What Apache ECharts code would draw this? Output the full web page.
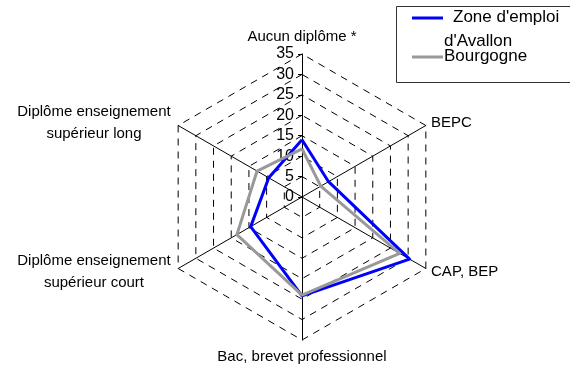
<!DOCTYPE html>
<html><head><meta charset="utf-8">
<script src="https://cdn.jsdelivr.net/npm/echarts@6/dist/echarts.min.js"></script>
<style>html,body{margin:0;padding:0;background:#fff}#c{width:570px;height:367px}</style>
</head><body><div id="c"></div>
<script>
// Indicators in drawing order (counter-clockwise from top)
var categories = ["Aucun diplôme *", "Diplôme enseignement\nsupérieur long", "Diplôme enseignement\nsupérieur court", "Bac, brevet professionnel", "CAP, BEP", "BEPC"];
var avallon = [14.0, 9.4, 14.5, 24.2, 30.4, 7.5];
var bourgogne = [11.8, 12.7, 18.4, 24.0, 27.6, 5.3];
var seriesNames = ["Zone d'emploi d'Avallon", "Bourgogne"];
var axisMax = 35;
var tickStep = 5;

var chart = echarts.init(document.getElementById('c'), null, {renderer: 'canvas'});
var FONT = 'Liberation Sans, Arial, sans-serif';
var indicators = categories.map(function (c, i) {
  var o = {name: c, min: 0, max: axisMax};
  if (i === 0) {
    o.axisLabel = {show: true, fontSize: 16, color: '#000', fontFamily: FONT, margin: 8};
    o.axisTick = {show: true, length: 4, lineStyle: {color: '#000', width: 1}};
  }
  return o;
});
chart.setOption({
  animation: false,
  radar: {
    center: [302, 197],
    radius: 143,
    startAngle: 90,
    shape: 'polygon',
    splitNumber: axisMax / tickStep,
    nameGap: 6,
    axisName: {
      color: '#000', fontSize: 15, fontFamily: FONT,
      formatter: function (n, ind) {
        var lines = n.split('\n');
        if (lines.length > 1) return lines.map(function (l) { return '{c|' + l + '}'; }).join('\n');
        if (n === categories[0]) return '{t|' + n + '}';
        if (n === categories[3]) return '{b|' + n + '}';
        return n;
      },
      rich: {
        c: {width: 158, align: 'center', fontSize: 15, color: '#000', fontFamily: FONT, lineHeight: 22},
        t: {fontSize: 15, color: '#000', fontFamily: FONT, padding: [0, 0, 4, 0]},
        b: {fontSize: 15, color: '#000', fontFamily: FONT, padding: [3, 0, 0, 0]}
      }
    },
    axisLine: {show: true, lineStyle: {color: '#000', width: 1}},
    axisTick: {show: false},
    axisLabel: {show: false},
    splitLine: {show: true, lineStyle: {color: '#000', width: 1, type: [7, 6]}},
    splitArea: {show: false},
    indicator: indicators
  },
  series: [{
    type: 'radar',
    symbol: 'none',
    data: [
      {name: seriesNames[0], value: avallon, lineStyle: {color: '#0000FF', width: 3}},
      {name: seriesNames[1], value: bourgogne, lineStyle: {color: '#999999', width: 3}}
    ]
  }],
  graphic: [
    {type: 'rect', shape: {x: 396.5, y: 6.5, width: 190, height: 76}, style: {fill: '#fff', stroke: '#333', lineWidth: 1}},
    {type: 'line', shape: {x1: 412, y1: 18, x2: 443, y2: 18}, style: {stroke: '#0000FF', lineWidth: 3}},
    {type: 'text', left: 453, top: 9, style: {text: "Zone d'emploi", font: '17px ' + FONT, fill: '#000'}},
    {type: 'text', left: 444, top: 33, style: {text: "d'Avallon", font: '17px ' + FONT, fill: '#000'}},
    {type: 'line', shape: {x1: 412, y1: 57, x2: 443, y2: 57}, style: {stroke: '#999999', lineWidth: 3}},
    {type: 'text', left: 444, top: 48, style: {text: 'Bourgogne', font: '17px ' + FONT, fill: '#000'}}
  ]
});
</script></body></html>
